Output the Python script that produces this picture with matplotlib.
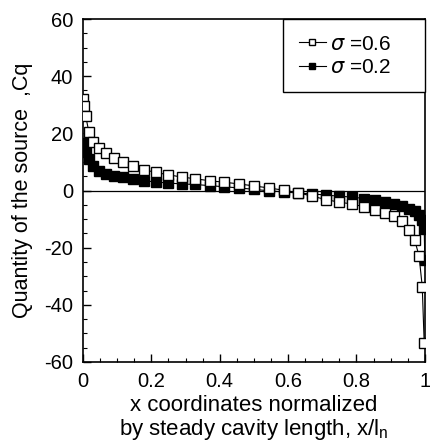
import matplotlib
matplotlib.use("Agg")
import matplotlib.pyplot as plt
from matplotlib.ticker import MultipleLocator

plt.rcParams["font.family"] = ["Liberation Sans", "DejaVu Sans"]
plt.rcParams["mathtext.fontset"] = "dejavusans"
plt.rcParams["axes.unicode_minus"] = False

# 空泡长度归一化坐标（两端加密）
x_02 = [0.0, 0.0019, 0.0076, 0.0170, 0.0302, 0.0468, 0.0670, 0.0904, 0.1170,
        0.1464, 0.1786, 0.2132, 0.2500, 0.2887, 0.3290, 0.3706, 0.4132, 0.4564,
        0.5000, 0.5436, 0.5868, 0.6294, 0.6710, 0.7113, 0.7500, 0.7868, 0.8214,
        0.8536, 0.8830, 0.9096, 0.9330, 0.9532, 0.9698, 0.9830, 0.9924, 0.9981,
        1.0]
x_06 = x_02[:36]

# sigma = 0.6 (open squares)
cq_06 = [32.0, 29.5, 26.2, 20.6, 17.1, 14.8, 13.1, 11.3, 9.8,
         8.4, 7.3, 6.3, 5.5, 4.7, 4.1, 3.4, 2.9, 2.3,
         1.6, 0.9, 0.1, -0.8, -2.0, -3.2, -4.1, -4.7, -5.7,
         -6.7, -7.8, -9.0, -10.8, -13.7, -17.2, -22.8, -33.6, -53.3]
# sigma = 0.2 (filled squares)
cq_02 = [16.6, 15.5, 13.6, 11.0, 8.6, 6.9, 5.9, 5.2, 4.7,
         4.1, 3.4, 3.0, 2.6, 2.3, 2.1, 1.7, 1.3, 0.9,
         0.4, -0.1, -0.5, -0.9, -1.2, -1.6, -2.0, -2.3, -2.8,
         -3.4, -4.0, -4.7, -5.5, -6.3, -7.3, -8.6, -10.4, -13.4,
         -24.3]

fig = plt.figure(figsize=(4.30, 4.42), dpi=100)
ax = fig.add_axes([0.193, 0.181, 0.795, 0.776])

ax.axhline(0, color="black", lw=0.9, zorder=1)
ax.plot(x_06, cq_06, color="black", lw=0.8, marker="s", ms=7,
        mfc="white", mec="black", mew=1.0, label=r"$\sigma$ =0.6", zorder=3)
ax.plot(x_02, cq_02, color="black", lw=0.8, marker="s", ms=7,
        mfc="black", mec="black", mew=1.0, label=r"$\sigma$ =0.2", zorder=2)

ax.set_xlim(0, 1)
ax.set_ylim(-60, 60)
ax.xaxis.set_minor_locator(MultipleLocator(0.05))
ax.yaxis.set_major_locator(MultipleLocator(20))
ax.yaxis.set_minor_locator(MultipleLocator(5))
ax.set_xticks([0, 0.2, 0.4, 0.6, 0.8, 1.0])
ax.set_xticklabels(["0", "0.2", "0.4", "0.6", "0.8", "1"])
ax.tick_params(which="both", direction="in", top=False, right=False)
ax.tick_params(which="major", length=6, width=1, labelsize=14.5, pad=7)
ax.tick_params(which="minor", length=3, width=0.8)
for s in ax.spines.values():
    s.set_linewidth(1.2)

ax.set_ylabel("Quantity of the source  ,Cq", fontsize=15.5, labelpad=8)
ax.set_xlabel("x coordinates normalized\nby steady cavity length, x/l$_\\mathregular{n}$",
              fontsize=16, labelpad=3, linespacing=1.05)

leg = ax.legend(loc="upper left", bbox_to_anchor=(0.585, 0.793, 0.415, 0.207),
                mode="expand", fontsize=15, handlelength=1.3,
                handletextpad=0.2, borderaxespad=0, fancybox=False,
                framealpha=1, edgecolor="black", markerscale=0.65,
                borderpad=0.75, labelspacing=0.2)
leg.get_frame().set_linewidth(1.0)

fig.savefig("out.png", dpi=100)
